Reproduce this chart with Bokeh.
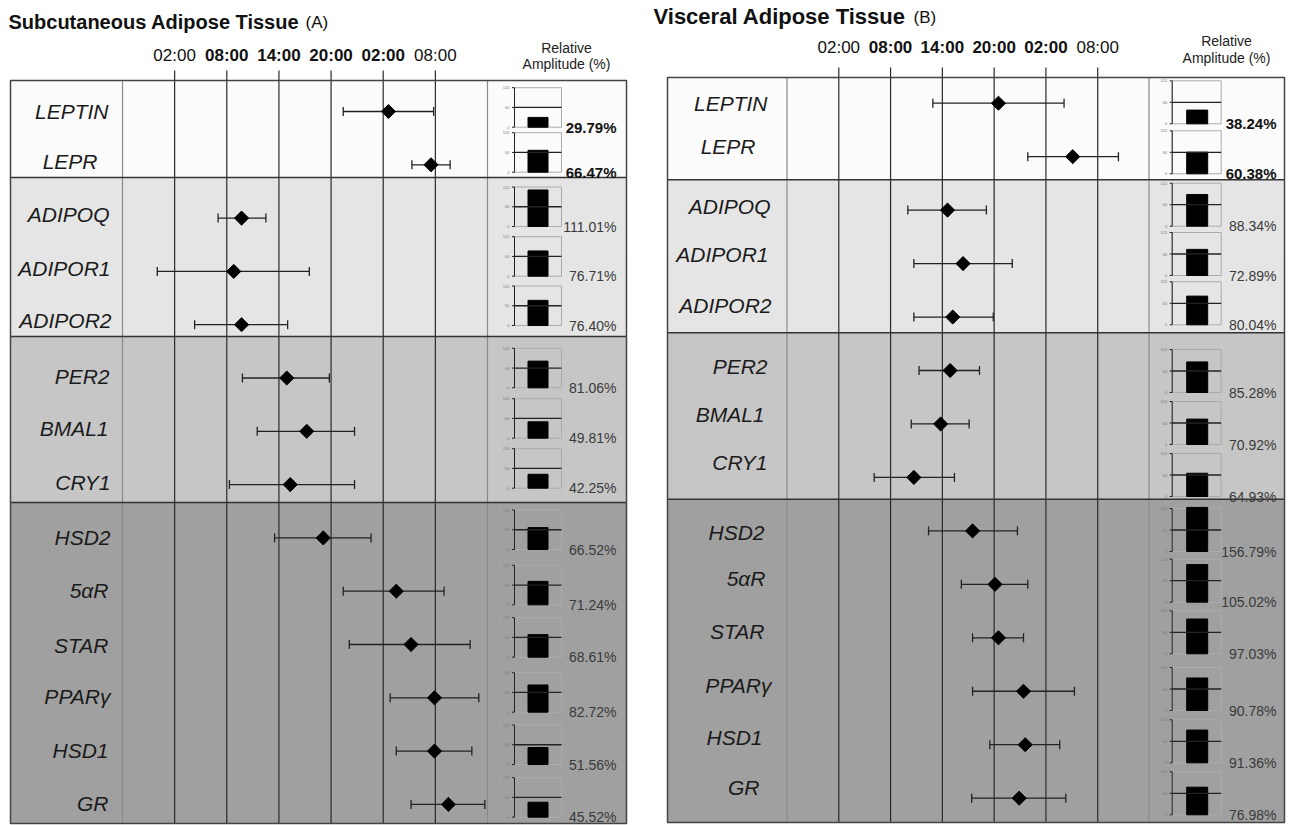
import numpy as np
from bokeh.plotting import figure
from bokeh.models import Range1d
from bokeh.embed import file_html
from bokeh.resources import INLINE
from bokeh.core.properties import value

# ---------------- data ----------------
genes = ["LEPTIN", "LEPR", "ADIPOQ", "ADIPOR1", "ADIPOR2", "PER2", "BMAL1", "CRY1",
         "HSD2", "5\u03b1R", "STAR", "PPAR\u03b3", "HSD1", "GR"]

# acrophase in clock hours on a continuous axis (02:00 = 2, next-day 02:00 = 26)
sat_phase = [26.6, 31.5, 9.7, 8.8, 9.7, 14.9, 17.2, 15.3, 19.1, 27.5, 29.2, 31.9, 31.9, 33.5]
sat_lo    = [21.4, 29.3, 7.0, 0.0, 4.3, 9.8, 11.5, 8.3, 13.5, 21.4, 22.1, 26.8, 27.5, 29.2]
sat_hi    = [31.8, 33.7, 12.5, 17.5, 15.0, 19.8, 22.7, 22.7, 24.6, 33.0, 36.0, 37.0, 36.2, 37.7]
sat_amp   = [29.79, 66.47, 111.01, 76.71, 76.40, 81.06, 49.81, 42.25, 66.52, 71.24, 68.61, 82.72, 51.56, 45.52]

vat_phase = [20.5, 29.1, 14.6, 16.4, 15.2, 14.9, 13.8, 10.7, 17.5, 20.1, 20.5, 23.4, 23.6, 22.9]
vat_lo    = [12.9, 23.9, 10.0, 10.7, 10.7, 11.3, 10.4, 6.1, 12.4, 16.2, 17.5, 17.5, 19.5, 17.4]
vat_hi    = [28.1, 34.4, 19.1, 22.1, 19.9, 18.3, 17.1, 15.4, 22.7, 23.9, 23.4, 29.3, 27.6, 28.3]
vat_amp   = [38.24, 60.38, 88.34, 72.89, 80.04, 85.28, 70.92, 64.93, 156.79, 105.02, 97.03, 90.78, 91.36, 76.98]

tick_hours  = [2, 8, 14, 20, 26, 32]
tick_labels = ["02:00", "08:00", "14:00", "20:00", "02:00", "08:00"]
tick_bold   = [False, True, True, True, True, False]

group_colors = ["#fbfbfb", "#e5e5e5", "#c6c6c6", "#a0a0a0"]

# ---------------- layout (page pixel units) ----------------
FONT = value("Liberation Sans")
W, H = 1291, 825
X0, X1 = 0, W
Y_BOT, Y_TOP = H, 0

panels = {
    "A": dict(title="Subcutaneous Adipose Tissue", tag="(A)", title_x=8, title_y=21, title_size="20px",
              tag_x=305, xl=10, xr=626, yt=80, yb=823, lab_r=122, mini_l=487,
              seps=[177, 336, 502], h_left=-4, x_hl=122, h_right=38, x_hr=487,
              row0=111, step=53.3, tick_y=55, tick_top=70,
              lab_x=[108, 97, 109, 110, 111, 109, 108, 110, 110, 108, 108, 110, 108, 108],
              lab_dy=[0, -3, -4, -3, -4, -2, -3, -2, 0, -1, 1, -1, -1, -1],
              ax_x=514, box_r=561, bar_c=537.5, bar_w=20, pct_x=616,
              mini_bot=[126.7, 171.7, 226, 275.7, 325, 387.3, 437.7, 487.7, 549, 604.3, 656.7, 711.7, 764, 816.7],
              mini_h=39.5, rel_x=566, rel_y=47, amp_y=63,
              phase=sat_phase, lo=sat_lo, hi=sat_hi, amp=sat_amp),
    "B": dict(title="Visceral Adipose Tissue", tag="(B)", title_x=653, title_y=16, title_size="22px",
              tag_x=913, xl=667, xr=1284, yt=77, yb=822, lab_r=786.5, mini_l=1148.5,
              seps=[179.3, 332.3, 498.7], h_left=-4, x_hl=786.5, h_right=38, x_hr=1149,
              row0=102.7, step=53.46, tick_y=47, tick_top=67,
              lab_x=[767, 755, 770, 768, 771, 767, 764, 767, 764, 765, 764, 771, 762, 759],
              lab_dy=[0, -10, -4, -9, -12, -4, -9, -15, 2, -6, -6, -6, -7, -11],
              ax_x=1171.7, box_r=1220.7, bar_c=1196.7, bar_w=21, pct_x=1276,
              mini_bot=[123.3, 173.3, 225.7, 275, 324.3, 392, 444, 496, 551, 601.7, 653.3, 710, 762.3, 814.3],
              mini_h=43, rel_x=1226, rel_y=40, amp_y=57,
              phase=vat_phase, lo=vat_lo, hi=vat_hi, amp=vat_amp),
}

p = figure(width=W, height=H, x_range=Range1d(X0, X1), y_range=Range1d(Y_BOT, Y_TOP),
           output_backend="svg", toolbar_location=None, min_border=0,
           x_axis_location=None, y_axis_location=None)
p.xgrid.visible = False
p.ygrid.visible = False
p.outline_line_color = None
p.background_fill_color = "white"
p.border_fill_color = "white"

xr_extra, yr_extra = {}, {}
for key, L in panels.items():
    k = (L["h_right"] - L["h_left"]) / (L["x_hr"] - L["x_hl"])
    xr_extra["t" + key] = Range1d(L["h_left"] + (X0 - L["x_hl"]) * k, L["h_left"] + (X1 - L["x_hl"]) * k)
    yr_extra["r" + key] = Range1d((Y_BOT - L["row0"]) / L["step"], (Y_TOP - L["row0"]) / L["step"])
    for i, b in enumerate(L["mini_bot"]):
        yr_extra[f"m{key}{i}"] = Range1d((b - Y_BOT) / L["mini_h"] * 120, (b - Y_TOP) / L["mini_h"] * 120)
p.extra_x_ranges = xr_extra
p.extra_y_ranges = yr_extra

for key, L in panels.items():
    tn, rn = "t" + key, "r" + key
    bounds = [L["yt"]] + L["seps"] + [L["yb"]]
    # group shading
    p.quad(left=[L["xl"]] * 4, right=[L["xr"]] * 4, top=bounds[:-1], bottom=bounds[1:],
           fill_color=group_colors, line_color=None)
    # column separators
    p.segment(x0=[L["lab_r"], L["mini_l"]], x1=[L["lab_r"], L["mini_l"]],
              y0=[L["yt"]] * 2, y1=[L["yb"]] * 2, line_color="#8a8a8a", line_width=1.2)
    # hour grid lines with ticks above the table
    p.segment(x0=tick_hours, x1=tick_hours, y0=[L["tick_top"]] * 6, y1=[L["yb"]] * 6,
              x_range_name=tn, line_color="#2a2a2a", line_width=1.2)
    # group separators and frame
    p.segment(x0=[L["xl"]] * 3, x1=[L["xr"]] * 3, y0=L["seps"], y1=L["seps"],
              line_color="#333333", line_width=1.5)
    p.quad(left=[L["xl"]], right=[L["xr"]], top=[L["yt"]], bottom=[L["yb"]],
           fill_color=None, line_color="#444444", line_width=1.5)
    # tick labels
    tb = [h for h, b in zip(tick_hours, tick_bold) if b]
    tl_b = [t for t, b in zip(tick_labels, tick_bold) if b]
    tn_h = [h for h, b in zip(tick_hours, tick_bold) if not b]
    tl_n = [t for t, b in zip(tick_labels, tick_bold) if not b]
    p.text(x=tb, y=[L["tick_y"]] * len(tb), text=tl_b, x_range_name=tn, text_font=FONT,
           text_font_size="17px", text_font_style="bold", text_align="center",
           text_baseline="middle", text_color="#111111")
    p.text(x=tn_h, y=[L["tick_y"]] * len(tn_h), text=tl_n, x_range_name=tn, text_font=FONT,
           text_font_size="17px", text_align="center", text_baseline="middle", text_color="#111111")
    # header texts
    p.text(x=[L["title_x"]], y=[L["title_y"]], text=[L["title"]], text_font=FONT,
           text_font_size=L["title_size"], text_font_style="bold", text_baseline="middle",
           text_color="#111111")
    p.text(x=[L["tag_x"]], y=[L["title_y"] + 1], text=[L["tag"]], text_font=FONT,
           text_font_size="17px", text_baseline="middle", text_color="#111111")
    p.text(x=[L["rel_x"], L["rel_x"]], y=[L["rel_y"], L["amp_y"]], text=["Relative", "Amplitude (%)"],
           text_font=FONT, text_font_size="14px", text_align="center", text_baseline="middle",
           text_color="#222222")
    # gene labels
    rows = list(range(len(genes)))
    p.text(x=L["lab_x"], y=[L["row0"] + i * L["step"] + d for i, d in zip(rows, L["lab_dy"])],
           text=genes, text_font=FONT, text_font_size="21px", text_font_style="italic",
           text_align="right", text_baseline="middle", text_color="#1a1a1a")
    # error bars and acrophase markers
    p.segment(x0=L["lo"], x1=L["hi"], y0=rows, y1=rows, x_range_name=tn, y_range_name=rn,
              line_color="#222222", line_width=1.3)
    p.scatter(x=L["lo"] + L["hi"], y=rows + rows, x_range_name=tn, y_range_name=rn,
              marker="dash", angle=np.pi / 2, size=9, line_color="#222222", line_width=1.3)
    p.scatter(x=L["phase"], y=rows, x_range_name=tn, y_range_name=rn, marker="square",
              angle=np.pi / 4, size=10, fill_color="black", line_color="black")
    # mini amplitude bar charts
    for i, a in enumerate(L["amp"]):
        mn = f"m{key}{i}"
        p.quad(left=[L["ax_x"]], right=[L["box_r"]], bottom=[0], top=[120], y_range_name=mn,
               fill_color=None, line_color="#ababab", line_width=1)
        p.vbar(x=[L["bar_c"]], width=L["bar_w"], bottom=0, top=[min(a, 123)], y_range_name=mn,
               fill_color="black", line_color="black")
        p.segment(x0=[L["ax_x"]], x1=[L["box_r"]], y0=[60], y1=[60], y_range_name=mn,
                  line_color="#222222", line_width=1.3)
        p.segment(x0=[L["ax_x"]] + [L["ax_x"] - 2.5] * 3, x1=[L["ax_x"]] * 4,
                  y0=[0, 0, 60, 120], y1=[120, 0, 60, 120], y_range_name=mn,
                  line_color="#222222", line_width=1)
        p.text(x=[L["ax_x"] - 5] * 3, y=[0, 60, 120], text=["0", "60", "120"], y_range_name=mn,
               text_font=FONT, text_font_size="4px", text_align="right", text_baseline="middle",
               text_color="#777777")
        bold = i < 2
        p.text(x=[L["pct_x"]], y=[0], text=[f"{a:.2f}%"], y_range_name=mn, text_font=FONT,
               text_font_size="15px" if bold else "14px",
               text_font_style="bold" if bold else "normal",
               text_align="right", text_baseline="alphabetic",
               text_color="#111111" if bold else "#3a3a3a")

open("out.html", "w").write(file_html(p, INLINE))
